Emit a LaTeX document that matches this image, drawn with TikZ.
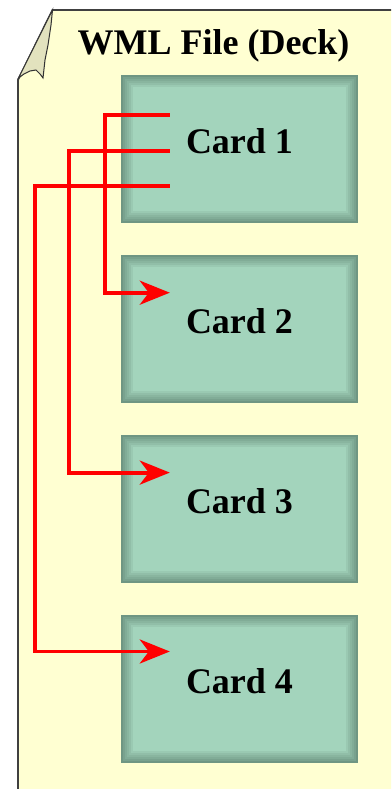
\documentclass[tikz,border=0pt]{standalone}
\usepackage{fontspec}
\setmainfont{Liberation Serif}
\usetikzlibrary{positioning,arrows.meta}
\definecolor{pageyellow}{HTML}{FFFFD2}
\definecolor{flapgrey}{HTML}{E2E2BE}
\definecolor{cardface}{HTML}{A3D4BC}
\definecolor{cardedge}{HTML}{6F9683}
\newcommand{\bevelstep}[2]{%
    \fill[cardface!#2!cardedge] ([shift={(#1pt,-#1pt)}]path picture bounding box.north west)
        rectangle ([shift={(-#1pt,#1pt)}]path picture bounding box.south east);}
\begin{document}
\begin{tikzpicture}[
            x=1pt, y=-1pt,
            node distance=31.5pt,
            card/.style={minimum width=237pt, minimum height=148pt, inner sep=0pt,
                fill=cardedge, text height=25pt, text depth=16pt,
                font=\fontsize{36}{40}\selectfont\bfseries,
                path picture={
                    \bevelstep{2}{20}\bevelstep{4}{35}\bevelstep{6}{50}
                    \bevelstep{8}{65}\bevelstep{10}{82}\bevelstep{12}{100}
                }},
            link/.style={draw=red, line width=3.8pt, -{Stealth[length=30pt, width=24pt, inset=9pt]}}
            ]
        \useasboundingbox (0,0) rectangle (391,789);
        \fill[pageyellow] (18,789) -- (18,80) -- (52.5,10) -- (391,10) -- (391,789) -- cycle;
        \draw[line width=1.8pt, black!75] (18,789) -- (18,80) -- (52.5,10) -- (391,10);
        \filldraw[fill=flapgrey, draw=black!80, line width=1pt]
            (52.5,10) -- (18.5,78) -- (24,74) -- (30,71) -- (36,70) -- (40,74) -- (43,78)
            -- (45,60) -- (48,45) -- (51,25) -- cycle;
        \node[font=\fontsize{36}{40}\selectfont\bfseries, anchor=base] (title) at (213.5,55) {WML File (Deck)};
        \node[card] (card1) at (239.5,149) {Card 1};
        \node[card, below=of card1] (card2) {Card 2};
        \node[card, below=of card2] (card3) {Card 3};
        \node[card, below=of card3] (card4) {Card 4};
        \coordinate (out1) at ([shift={(49,40)}]card1.north west);
        \coordinate (out2) at ([shift={(49,76)}]card1.north west);
        \coordinate (out3) at ([shift={(49,111)}]card1.north west);
        \coordinate (in2) at ([shift={(49,38)}]card2.north west);
        \coordinate (in3) at ([shift={(49,38)}]card3.north west);
        \coordinate (in4) at ([shift={(49,37)}]card4.north west);
        \draw[link] (out1) -- +(-65,0) |- (in2);
        \draw[link] (out2) -- +(-101,0) |- (in3);
        \draw[link] (out3) -- +(-135,0) |- (in4);
\end{tikzpicture}
\end{document}
